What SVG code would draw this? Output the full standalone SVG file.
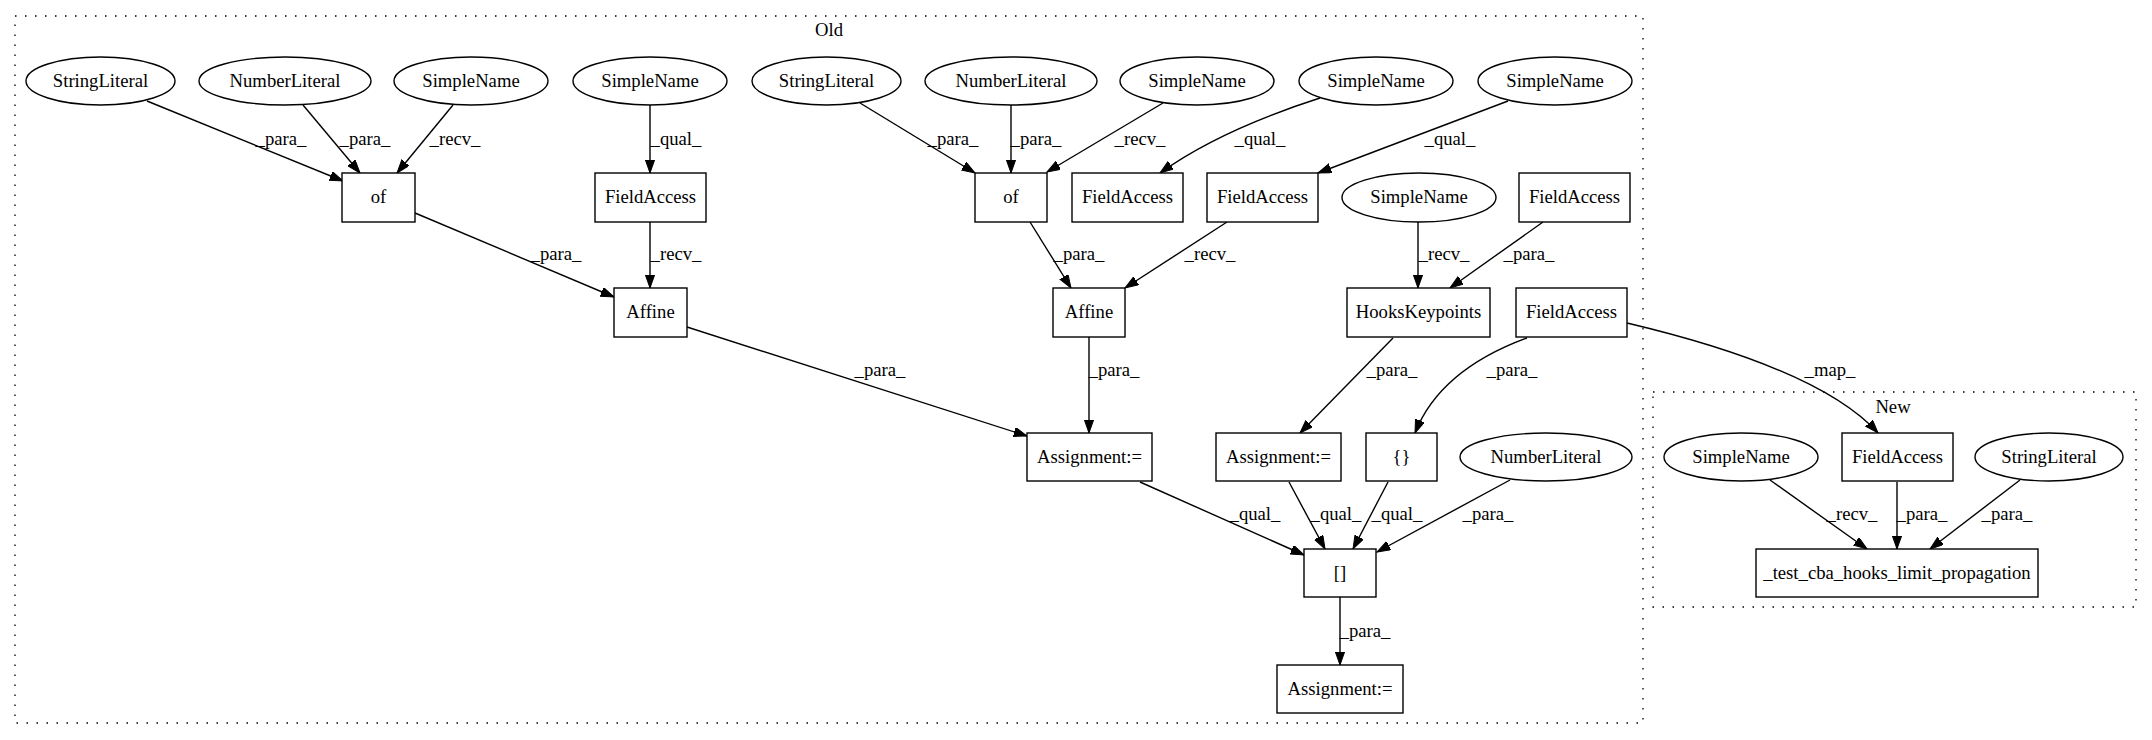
<svg xmlns="http://www.w3.org/2000/svg" width="2152" height="740" viewBox="0 0 2152 740">
<style>
  .bg { fill: #ffffff; }
  .cluster { fill: none; stroke: #000000; stroke-width: 1.3; stroke-dasharray: 1.5 8.5; }
  .node rect, .node ellipse { fill: #ffffff; stroke: #000000; stroke-width: 1.4; }
  text { font-family: "Liberation Serif", "Times New Roman", serif; font-size: 18.67px; fill: #000000; text-anchor: middle; }
  .edge { fill: none; stroke: #000000; stroke-width: 1.4; marker-end: url(#arrow); }
</style>
<defs>
  <marker id="arrow" markerUnits="userSpaceOnUse" markerWidth="14" markerHeight="10" refX="13.3" refY="4.7" orient="auto">
    <path d="M0,0 L13.3,4.7 L0,9.4 Z" fill="#000000" stroke="#000000" stroke-width="1"/>
  </marker>
</defs>
<rect class="bg" x="0" y="0" width="2152" height="740"/>

<g id="cluster_old">
  <rect class="cluster" x="15" y="16" width="1628" height="707"/>
  <text x="829" y="36">Old</text>
</g>
<g id="cluster_new">
  <rect class="cluster" x="1653" y="392" width="483" height="215"/>
  <text x="1893" y="413">New</text>
</g>

<g id="connectors">
  <path class="edge" d="M147,101 L343,181"/>
  <text x="281" y="145">_para_</text>
  <path class="edge" d="M303,105 L360,173"/>
  <text x="365" y="145">_para_</text>
  <path class="edge" d="M453,105 L397,173"/>
  <text x="455" y="145">_recv_</text>
  <path class="edge" d="M650,105 L650,173"/>
  <text x="676" y="145">_qual_</text>
  <path class="edge" d="M415,213 L614,297"/>
  <text x="556" y="260">_para_</text>
  <path class="edge" d="M650,222 L650,288"/>
  <text x="676" y="260">_recv_</text>
  <path class="edge" d="M860,103 L975,173"/>
  <text x="953" y="145">_para_</text>
  <path class="edge" d="M1011,105 L1011,173"/>
  <text x="1036" y="145">_para_</text>
  <path class="edge" d="M1163,103 L1047,172"/>
  <text x="1140" y="145">_recv_</text>
  <path class="edge" d="M1320,98 Q1220,130 1160,173"/>
  <text x="1260" y="145">_qual_</text>
  <path class="edge" d="M1508,101 L1318,173"/>
  <text x="1450" y="145">_qual_</text>
  <path class="edge" d="M1030,222 L1071,288"/>
  <text x="1079" y="260">_para_</text>
  <path class="edge" d="M1227,222 L1125,288"/>
  <text x="1210" y="260">_recv_</text>
  <path class="edge" d="M1418,222 L1418,288"/>
  <text x="1444" y="260">_recv_</text>
  <path class="edge" d="M1543,222 L1450,288"/>
  <text x="1529" y="260">_para_</text>
  <path class="edge" d="M687,327 L1027,436"/>
  <text x="880" y="376">_para_</text>
  <path class="edge" d="M1089,337 L1089,433"/>
  <text x="1114" y="376">_para_</text>
  <path class="edge" d="M1393,338 L1300,433"/>
  <text x="1392" y="376">_para_</text>
  <path class="edge" d="M1527,338 Q1440,370 1415,433"/>
  <text x="1512" y="376">_para_</text>
  <path class="edge" d="M1627,323 C1720,345 1830,380 1878,433"/>
  <text x="1830" y="376">_map_</text>
  <path class="edge" d="M1140,482 L1304,555"/>
  <text x="1255" y="520">_qual_</text>
  <path class="edge" d="M1289,482 L1325,549"/>
  <text x="1336" y="520">_qual_</text>
  <path class="edge" d="M1388,482 L1353,549"/>
  <text x="1397" y="520">_qual_</text>
  <path class="edge" d="M1510,480 L1377,552"/>
  <text x="1488" y="520">_para_</text>
  <path class="edge" d="M1340,597 L1340,665"/>
  <text x="1365" y="637">_para_</text>
  <path class="edge" d="M1770,480 L1867,549"/>
  <text x="1852" y="520">_recv_</text>
  <path class="edge" d="M1897,482 L1897,549"/>
  <text x="1922" y="520">_para_</text>
  <path class="edge" d="M2020,480 L1930,549"/>
  <text x="2007" y="520">_para_</text>
</g>

<g id="n_stringliteral1" class="node"><ellipse cx="100.5" cy="81" rx="74.5" ry="24"/><text x="100.5" y="86.5">StringLiteral</text></g>
<g id="n_numberliteral1" class="node"><ellipse cx="285" cy="81" rx="86" ry="24"/><text x="285" y="86.5">NumberLiteral</text></g>
<g id="n_simplename1" class="node"><ellipse cx="471" cy="81" rx="77" ry="24"/><text x="471" y="86.5">SimpleName</text></g>
<g id="n_simplename2" class="node"><ellipse cx="650" cy="81" rx="77" ry="24"/><text x="650" y="86.5">SimpleName</text></g>
<g id="n_stringliteral2" class="node"><ellipse cx="826.5" cy="81" rx="74.5" ry="24"/><text x="826.5" y="86.5">StringLiteral</text></g>
<g id="n_numberliteral2" class="node"><ellipse cx="1011" cy="81" rx="86" ry="24"/><text x="1011" y="86.5">NumberLiteral</text></g>
<g id="n_simplename3" class="node"><ellipse cx="1197" cy="81" rx="77" ry="24"/><text x="1197" y="86.5">SimpleName</text></g>
<g id="n_simplename4" class="node"><ellipse cx="1376" cy="81" rx="77" ry="24"/><text x="1376" y="86.5">SimpleName</text></g>
<g id="n_simplename5" class="node"><ellipse cx="1555" cy="81" rx="77" ry="24"/><text x="1555" y="86.5">SimpleName</text></g>

<g id="n_of1" class="node"><rect x="342" y="173" width="73" height="49"/><text x="378.5" y="203">of</text></g>
<g id="n_fieldaccess1" class="node"><rect x="595" y="173" width="111" height="49"/><text x="650.5" y="203">FieldAccess</text></g>
<g id="n_of2" class="node"><rect x="975" y="173" width="72" height="49"/><text x="1011" y="203">of</text></g>
<g id="n_fieldaccess2" class="node"><rect x="1072" y="173" width="111" height="49"/><text x="1127.5" y="203">FieldAccess</text></g>
<g id="n_fieldaccess3" class="node"><rect x="1207" y="173" width="111" height="49"/><text x="1262.5" y="203">FieldAccess</text></g>
<g id="n_simplename6" class="node"><ellipse cx="1419" cy="197.5" rx="77" ry="24.5"/><text x="1419" y="203">SimpleName</text></g>
<g id="n_fieldaccess4" class="node"><rect x="1519" y="173" width="111" height="49"/><text x="1574.5" y="203">FieldAccess</text></g>

<g id="n_affine1" class="node"><rect x="614" y="288" width="73" height="49"/><text x="650.5" y="318">Affine</text></g>
<g id="n_affine2" class="node"><rect x="1053" y="288" width="72" height="49"/><text x="1089" y="318">Affine</text></g>
<g id="n_hookskeypoints" class="node"><rect x="1347" y="288" width="143" height="49"/><text x="1418.5" y="318">HooksKeypoints</text></g>
<g id="n_fieldaccess5" class="node"><rect x="1516" y="288" width="111" height="49"/><text x="1571.5" y="318">FieldAccess</text></g>

<g id="n_assignment1" class="node"><rect x="1027" y="433" width="125" height="48"/><text x="1089.5" y="462.5">Assignment:=</text></g>
<g id="n_assignment2" class="node"><rect x="1216" y="433" width="125" height="48"/><text x="1278.5" y="462.5">Assignment:=</text></g>
<g id="n_braces" class="node"><rect x="1366" y="433" width="71" height="48"/><text x="1401.5" y="462.5">{}</text></g>
<g id="n_numberliteral3" class="node"><ellipse cx="1546" cy="457" rx="86" ry="24"/><text x="1546" y="462.5">NumberLiteral</text></g>

<g id="n_index" class="node"><rect x="1304" y="549" width="72" height="48"/><text x="1340" y="578.5">[]</text></g>
<g id="n_assignment3" class="node"><rect x="1277" y="665" width="126" height="48"/><text x="1340" y="694.5">Assignment:=</text></g>

<g id="n_new_simplename" class="node"><ellipse cx="1741" cy="457" rx="77" ry="24"/><text x="1741" y="462.5">SimpleName</text></g>
<g id="n_new_fieldaccess" class="node"><rect x="1842" y="433" width="111" height="48"/><text x="1897.5" y="462.5">FieldAccess</text></g>
<g id="n_new_stringliteral" class="node"><ellipse cx="2049" cy="457" rx="74" ry="24"/><text x="2049" y="462.5">StringLiteral</text></g>
<g id="n_new_test" class="node"><rect x="1756" y="549" width="282" height="48"/><text x="1897" y="578.5">_test_cba_hooks_limit_propagation</text></g>
</svg>
